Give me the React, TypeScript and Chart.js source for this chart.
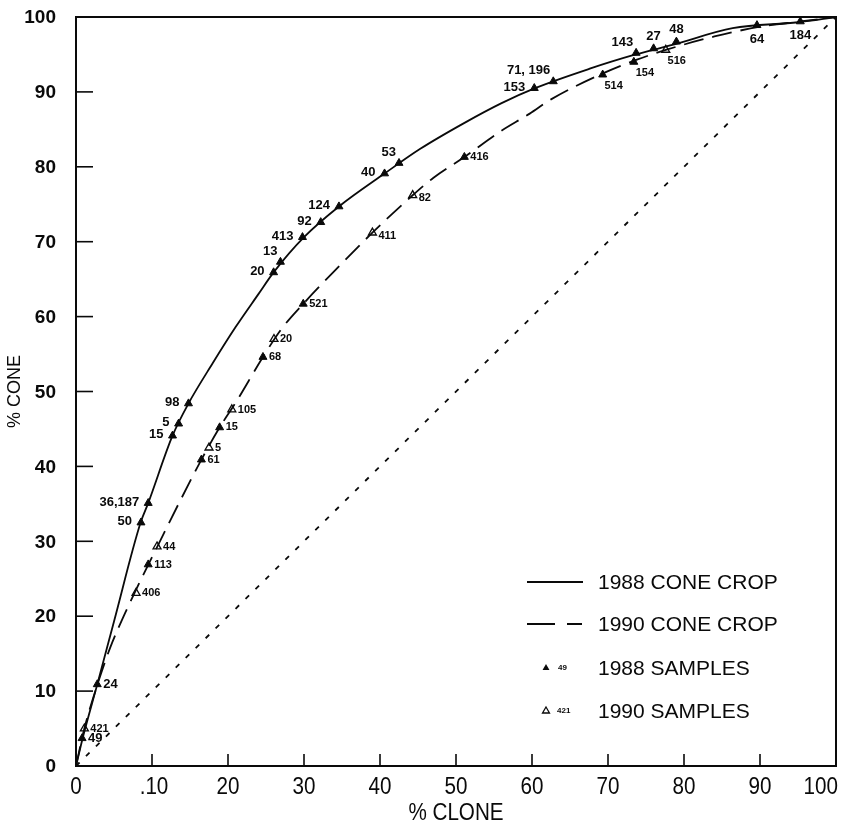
import React, { useEffect, useRef } from "react";
import { Chart, registerables } from "chart.js";

Chart.register(...registerables);

// ---------- axes ----------
const xTicks = [0, 10, 20, 30, 40, 50, 60, 70, 80, 90, 100];
const xTickLabels = ["0", ".10", "20", "30", "40", "50", "60", "70", "80", "90", "100"];
const yTicks = [0, 10, 20, 30, 40, 50, 60, 70, 80, 90, 100];
const yTickLabels = ["0", "10", "20", "30", "40", "50", "60", "70", "80", "90", "100"];
const xTitle = "% CLONE";
const yTitle = "% CONE";

// ---------- curves ----------
const crop1988X = [0, 1, 2.8, 5, 8.5, 9.5, 12.7, 14.8, 18, 21, 24, 26, 30, 34.6, 40.6, 45.3, 51, 56, 60.4, 67.6, 73.3, 78.6, 86.4, 95, 100];
const crop1988Y = [0, 4.2, 10.9, 19.3, 32.5, 35.1, 44.1, 48.4, 53.8, 58.6, 63.0, 65.9, 70.6, 74.7, 79.1, 82.4, 85.8, 88.5, 90.5, 93.1, 94.9, 96.3, 98.5, 99.3, 100];

const crop1990X = [0, 1.1, 2.7, 4.5, 6.5, 8.5, 10.7, 13.5, 16.5, 18.9, 21, 24.6, 27, 29.9, 34.5, 39, 44.3, 47, 51.1, 55.8, 59.7, 62.5, 69.4, 73.8, 77.6, 84, 90, 95.3, 100];
const crop1990Y = [0, 5, 10.5, 15.8, 20.5, 24.8, 29.3, 35, 40.9, 45.2, 48.5, 54.6, 58.3, 61.7, 66.6, 71.2, 76.2, 78.5, 81.3, 84.7, 87.1, 89, 92.5, 94.3, 95.6, 97.4, 98.7, 99.4, 100];

const equalX = [0, 100];
const equalY = [0, 100];

// ---------- samples ----------
const samples1988X = [0.8, 2.8, 8.55, 9.5, 12.7, 13.5, 14.8, 26.0, 26.9, 29.8, 32.2, 34.6, 40.6, 42.5, 60.3, 62.8, 73.7, 76.0, 79.0, 89.6, 95.3];
const samples1988Y = [3.7, 10.9, 32.5, 35.1, 44.1, 45.7, 48.4, 65.9, 67.3, 70.6, 72.6, 74.7, 79.1, 80.5, 90.5, 91.4, 95.2, 95.8, 96.7, 98.9, 99.4];
const samples1988Labels = ["49", "24", "50", "36,187", "15", "5", "98", "20", "13", "413", "92", "124", "40", "53", "153", "71, 196", "143", "27", "48", "64", "184"];
const samples1988Place = ["r", "r", "l", "l", "l", "l", "l", "l", "al", "l", "l", "l", "l", "al", "l", "al", "al", "a", "a", "b", "b"];

const samples1990FilledX = [9.5, 16.5, 18.9, 24.6, 29.9, 51.1, 69.3, 73.4];
const samples1990FilledY = [26.9, 40.9, 45.2, 54.6, 61.7, 81.3, 92.3, 94.0];
const samples1990FilledLabels = ["113", "61", "15", "68", "521", "416", "514", "154"];
const samples1990FilledPlace = ["r", "r", "r", "r", "r", "r", "br", "br"];

const samples1990OpenX = [1.1, 7.9, 10.66, 17.5, 20.5, 26.05, 39.0, 44.3, 77.6];
const samples1990OpenY = [5.0, 23.1, 29.3, 42.5, 47.6, 57.0, 71.2, 76.2, 95.6];
const samples1990OpenLabels = ["421", "406", "44", "5", "105", "20", "411", "82", "516"];
const samples1990OpenPlace = ["r", "r", "r", "r", "r", "r", "rb", "rb", "br"];

// ---------- legend ----------
const legendTexts = ["1988 CONE CROP", "1990 CONE CROP", "1988 SAMPLES", "1990 SAMPLES"];
const legendMarkLabels = ["49", "421"];

const SANS = "'Liberation Sans', Arial, Helvetica, sans-serif";
const INK = "#0a0a0a";

const toPts = (xs: number[], ys: number[]) => xs.map((x, i) => ({ x, y: ys[i] }));

function triangle(ctx: CanvasRenderingContext2D, x: number, y: number, r: number, filled: boolean) {
  const t = (2 * Math.PI) / 3;
  ctx.beginPath();
  for (let k = 0; k < 3; k++) {
    const a = k * t;
    const px = x + Math.sin(a) * r;
    const py = y - Math.cos(a) * r;
    if (k === 0) ctx.moveTo(px, py);
    else ctx.lineTo(px, py);
  }
  ctx.closePath();
  if (filled) {
    ctx.fillStyle = INK;
    ctx.fill();
  } else {
    ctx.fillStyle = "#fff";
    ctx.fill();
    ctx.lineWidth = 1.3;
    ctx.strokeStyle = INK;
    ctx.stroke();
  }
}

function condensedText(ctx: CanvasRenderingContext2D, text: string, x: number, y: number, sx: number, align: CanvasTextAlign) {
  ctx.save();
  ctx.translate(x, y);
  ctx.scale(sx, 1);
  ctx.textAlign = align;
  ctx.textBaseline = "middle";
  ctx.fillText(text, 0, 0);
  ctx.restore();
}

const decorPlugin = {
  id: "decor",
  beforeDatasetsDraw(chart: any) {
    const { ctx, chartArea: a, scales } = chart;
    ctx.save();
    ctx.strokeStyle = INK;
    ctx.fillStyle = INK;
    ctx.lineWidth = 2;
    ctx.strokeRect(a.left, a.top, a.right - a.left, a.bottom - a.top);
    ctx.lineWidth = 1.6;
    xTicks.slice(1, -1).forEach((v) => {
      const px = scales.x.getPixelForValue(v);
      ctx.beginPath();
      ctx.moveTo(px, a.bottom);
      ctx.lineTo(px, a.bottom - 12);
      ctx.stroke();
    });
    yTicks.slice(1, -1).forEach((v) => {
      const py = scales.y.getPixelForValue(v);
      ctx.beginPath();
      ctx.moveTo(a.left, py);
      ctx.lineTo(a.left + 17, py);
      ctx.stroke();
    });

    // y tick labels
    ctx.font = `bold 19px ${SANS}`;
    ctx.textAlign = "right";
    ctx.textBaseline = "middle";
    yTicks.forEach((v, i) => {
      ctx.fillText(yTickLabels[i], a.left - 20, scales.y.getPixelForValue(v) + 1);
    });

    // x tick labels (condensed face)
    ctx.font = `24px ${SANS}`;
    xTicks.forEach((v, i) => {
      const last = i === xTicks.length - 1;
      const px = scales.x.getPixelForValue(v);
      if (last) condensedText(ctx, xTickLabels[i], px + 2, a.bottom + 21, 0.86, "right");
      else condensedText(ctx, xTickLabels[i], px + (i === 1 ? 2 : 0), a.bottom + 21, 0.86, "center");
    });

    // axis titles
    ctx.font = `24px ${SANS}`;
    condensedText(ctx, xTitle, (a.left + a.right) / 2, a.bottom + 47, 0.86, "center");
    ctx.save();
    ctx.translate(15, (a.top + a.bottom) / 2);
    ctx.rotate(-Math.PI / 2);
    ctx.font = `18px ${SANS}`;
    ctx.textAlign = "center";
    ctx.textBaseline = "middle";
    ctx.fillText(yTitle, 0, 0);
    ctx.restore();
    ctx.restore();
  },
  afterDatasetsDraw(chart: any) {
    const { ctx } = chart;
    ctx.save();
    ctx.fillStyle = INK;
    chart.data.datasets.forEach((ds: any, i: number) => {
      if (!ds.pointLabels) return;
      const meta = chart.getDatasetMeta(i);
      ctx.font = `bold ${ds.labelSize}px ${SANS}`;
      meta.data.forEach((el: any, j: number) => {
        const text = ds.pointLabels[j];
        const place = ds.labelPlace[j];
        let x = el.x;
        let y = el.y;
        let align: CanvasTextAlign = "left";
        if (place === "r") { x += 6; align = "left"; }
        else if (place === "rb") { x += 6; y += 3; align = "left"; }
        else if (place === "l") { x -= 9; align = "right"; y -= 1; }
        else if (place === "al") { x -= 3; y -= 11; align = "right"; }
        else if (place === "a") { y -= 12; align = "center"; }
        else if (place === "b") { y += 14; align = "center"; }
        else if (place === "br") { x += 11; y += 11; align = "center"; }
        ctx.textAlign = align;
        ctx.textBaseline = "middle";
        ctx.fillText(text, x, y);
      });
    });
    ctx.restore();
  },
  afterDraw(chart: any) {
    const { ctx, chartArea: a } = chart;
    const rows = [565, 607, 651, 694].map((d) => a.top + d);
    const x0 = a.left + 451;
    const x1 = a.left + 507;
    const tx = a.left + 522;
    ctx.save();
    ctx.strokeStyle = INK;
    ctx.fillStyle = INK;
    ctx.lineWidth = 1.8;
    ctx.beginPath();
    ctx.moveTo(x0, rows[0]);
    ctx.lineTo(x1, rows[0]);
    ctx.stroke();
    ctx.setLineDash([28, 12]);
    ctx.beginPath();
    ctx.moveTo(x0, rows[1]);
    ctx.lineTo(x1 - 1, rows[1]);
    ctx.stroke();
    ctx.setLineDash([]);
    triangle(ctx, x0 + 19, rows[2], 4, true);
    triangle(ctx, x0 + 19, rows[3], 4, false);
    ctx.fillStyle = INK;
    ctx.font = `bold 8px ${SANS}`;
    ctx.textAlign = "left";
    ctx.textBaseline = "middle";
    ctx.fillText(legendMarkLabels[0], x0 + 31, rows[2]);
    ctx.fillText(legendMarkLabels[1], x0 + 30, rows[3]);
    ctx.font = `21px ${SANS}`;
    legendTexts.forEach((t, i) => ctx.fillText(t, tx, rows[i] + 1));
    ctx.restore();
  },
};

export default function App() {
  const ref = useRef<HTMLCanvasElement | null>(null);

  useEffect(() => {
    if (!ref.current) return;
    const chart = new Chart(ref.current, {
      type: "scatter",
      data: {
        datasets: [
          {
            label: "equal",
            data: toPts(equalX, equalY),
            showLine: true,
            borderColor: INK,
            borderWidth: 1.8,
            borderDash: [5, 9],
            pointRadius: 0,
          },
          {
            label: "1988 CONE CROP",
            data: toPts(crop1988X, crop1988Y),
            showLine: true,
            borderColor: INK,
            borderWidth: 1.8,
            pointRadius: 0,
            cubicInterpolationMode: "monotone",
          },
          {
            label: "1990 CONE CROP",
            data: toPts(crop1990X, crop1990Y),
            showLine: true,
            borderColor: INK,
            borderWidth: 1.8,
            borderDash: [20, 9],
            pointRadius: 0,
            cubicInterpolationMode: "monotone",
          },
          {
            label: "1988 SAMPLES",
            data: toPts(samples1988X, samples1988Y),
            pointStyle: "triangle",
            pointRadius: 4.6,
            backgroundColor: INK,
            borderColor: INK,
            borderWidth: 1,
            pointLabels: samples1988Labels,
            labelPlace: samples1988Place,
            labelSize: 13,
          } as any,
          {
            label: "1990 SAMPLES (filled)",
            data: toPts(samples1990FilledX, samples1990FilledY),
            pointStyle: "triangle",
            pointRadius: 4.6,
            backgroundColor: INK,
            borderColor: INK,
            borderWidth: 1,
            pointLabels: samples1990FilledLabels,
            labelPlace: samples1990FilledPlace,
            labelSize: 11,
          } as any,
          {
            label: "1990 SAMPLES",
            data: toPts(samples1990OpenX, samples1990OpenY),
            pointStyle: "triangle",
            pointRadius: 4.6,
            backgroundColor: "#fff",
            borderColor: INK,
            borderWidth: 1.3,
            pointLabels: samples1990OpenLabels,
            labelPlace: samples1990OpenPlace,
            labelSize: 11,
          } as any,
        ],
      },
      options: {
        responsive: false,
        animation: false,
        events: [],
        layout: { padding: { left: 0, top: 17, right: 23, bottom: 0 }, autoPadding: false },
        plugins: {
          legend: { display: false },
          tooltip: { enabled: false },
        },
        scales: {
          x: {
            type: "linear",
            min: 0,
            max: 100,
            grid: { display: false, drawTicks: false },
            border: { display: false },
            ticks: { display: false, stepSize: 10, padding: 0 },
            afterFit: (s: any) => {
              s.height = 64;
            },
          },
          y: {
            type: "linear",
            min: 0,
            max: 100,
            grid: { display: false, drawTicks: false },
            border: { display: false },
            ticks: { display: false, stepSize: 10, padding: 0 },
            afterFit: (s: any) => {
              s.width = 76;
            },
          },
        },
      } as any,
      plugins: [decorPlugin],
    });
    return () => chart.destroy();
  }, []);

  return (
    <div style={{ position: "absolute", left: 0, top: 0, width: 859, height: 830, background: "#fff" }}>
      <canvas ref={ref} width={859} height={830} style={{ display: "block" }} />
    </div>
  );
}
